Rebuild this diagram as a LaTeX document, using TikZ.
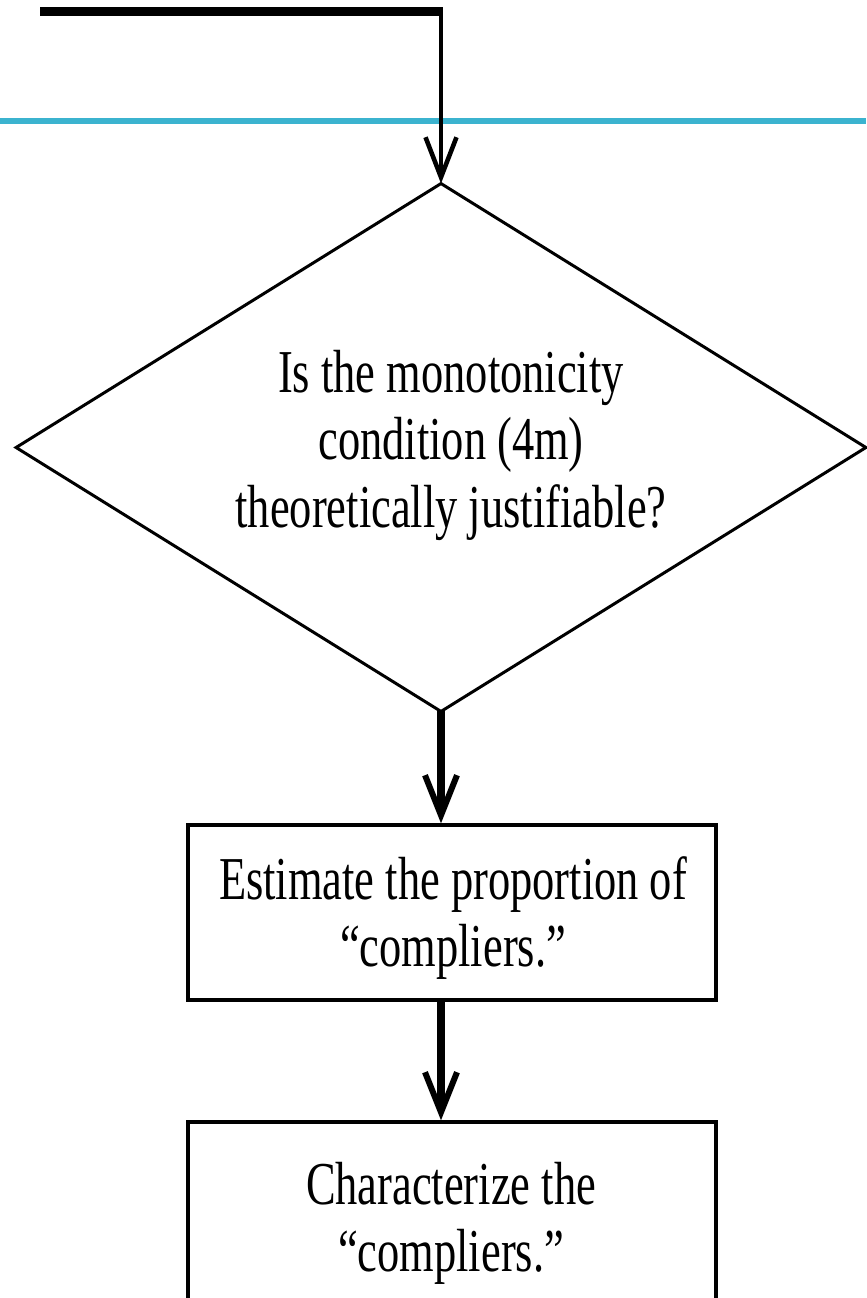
\documentclass[tikz,border=0pt]{standalone}
\usepackage{graphicx}
\usepackage{fontspec}
\setmainfont{Liberation Serif}
\usetikzlibrary{arrows.meta,shapes.geometric,positioning,calc}
\definecolor{rulecyan}{RGB}{59,179,207}
\newcommand{\tallstack}[2]{\scalebox{1}[1.37]{\fontsize{25.3pt}{#1}\selectfont\begin{tabular}{@{}c@{}}#2\end{tabular}}}

\begin{document}
\begin{tikzpicture}[x=0.02cm,y=-0.02cm,
  box/.style={draw,line width=2pt,minimum width=10.56cm,minimum height=3.5cm},
  lbl/.style={inner sep=0pt},
  arr/.style={line width=4pt,-{Straight Barb[length=0.8cm,width=0.64cm,line width=3.4pt]}}]
\useasboundingbox (0,0) rectangle (866,1298);
\draw[rulecyan,line width=3.4pt] (0,121) -- (866,121);
\node[diamond,draw,line width=1.7pt,minimum width=17cm,minimum height=10.56cm,inner sep=0pt,outer sep=0pt] (mono) at (441,447.5) {};
\node[lbl] (monolbl) at (451,446.4) {\tallstack{28.2pt}{Is the monotonicity\\condition (4m)\\theoretically justifiable?}};
\node[box] (est) at (452,912.5) {};
\node[lbl] (estlbl) at (453,920) {\tallstack{27.8pt}{Estimate the proportion of\\“compliers.”}};
\node[box,minimum height=3.6cm] (char) at (452,1212) {};
\node[lbl] (charlbl) at (451,1225) {\tallstack{27.8pt}{Characterize the\\“compliers.”}};
% feed line from above
\coordinate (feed) at (40,11.5);
\coordinate (bend) at (mono.north |- feed);
\draw[line width=5.2pt] (feed) -- ([xshift=1.4pt]bend);
\draw[line width=2.8pt,-{Straight Barb[length=0.8cm,width=0.62cm,line width=2.6pt]}] (bend) -- (mono.north);
\draw[arr] (mono.south) -- (mono.south |- est.north);
\draw[arr] (est.south -| mono.south) -- (mono.south |- char.north);
\end{tikzpicture}
\end{document}
